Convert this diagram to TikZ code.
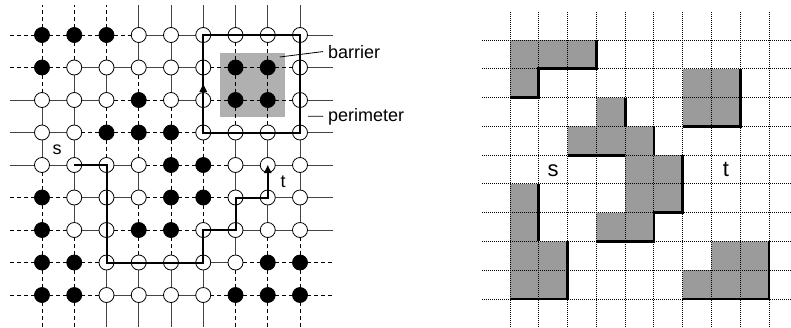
\documentclass[tikz,border=0pt]{standalone}
\usepackage{fontspec}
\setmainfont{Liberation Sans}
\usetikzlibrary{backgrounds,arrows.meta,calc}
\definecolor{edgegray}{HTML}{444444}
\definecolor{barriergray}{HTML}{B0B0B0}
\definecolor{cellgray}{HTML}{9B9B9B}
\tikzset{
  vtx/.style={circle, draw=black, line width=0.8pt, minimum size=15pt, inner sep=0pt},
  blk/.style={vtx, fill=black},
  wht/.style={vtx, fill=white},
  solidedge/.style={draw=edgegray, line width=0.9pt},
  dashedge/.style={draw=black, line width=0.8pt, dash pattern=on 4pt off 3pt},
  route/.style={draw=black, line width=2pt},
  leader/.style={draw=black, line width=0.8pt},
  lbl/.style={font=\fontsize{18}{21}\selectfont, inner sep=0pt},
  biglbl/.style={font=\fontsize{22}{26}\selectfont, inner sep=0pt},
  gridline/.style={draw=black, line width=1pt, dash pattern=on 1pt off 1pt},
  wall/.style={draw=black, line width=2.8pt, line join=miter},
  tri/.style={-{Triangle[length=8pt,width=7pt]}}
}
\def\st{{1,1,1,0,0,0,0,0,0,1,0,0,0,0,0,1,1,0,0,0,0,1,0,0,1,1,0,0,0,1,1,1,0,0,0,0,0,0,0,0,1,1,0,0,0,1,0,0,0,1,1,0,0,0,1,0,0,1,1,0,0,0,0,1,1,0,0,0,0,0,1,1,1,1,0,0,0,0,1,1,1}}
\begin{document}
\begin{tikzpicture}[x=1pt,y=-1pt]
\useasboundingbox (0,0) rectangle (791,327);
% ---------- left: node grid ----------
\foreach \r in {0,...,8}{
  \foreach \c in {0,...,8}{
    \pgfmathtruncatemacro\b{\st[\r*9+\c]}
    \ifnum\b=1 \def\ns{blk}\else\def\ns{wht}\fi
    \node[\ns] (n-\c-\r) at ({42+32.25*\c},{35+32.5*\r}) {};
  }
}
\begin{pgfonlayer}{background}
  \fill[barriergray] ($(n-6-1)+(-16,-15)$) rectangle ($(n-7-2)+(17,17)$);
  % horizontal edges
  \foreach \r in {0,...,8}{
    \foreach \c in {0,...,7}{
      \pgfmathtruncatemacro\s{\st[\r*9+\c]+\st[\r*9+\c+1]}
      \pgfmathtruncatemacro\cn{\c+1}
      \ifnum\s>0 \def\es{dashedge}\else\def\es{solidedge}\fi
      \draw[\es] (n-\c-\r.center) -- (n-\cn-\r.center);
    }
    \pgfmathtruncatemacro\sl{\st[\r*9]}
    \ifnum\sl>0 \def\es{dashedge}\else\def\es{solidedge}\fi
    \draw[\es] (n-0-\r.center) -- ++(-32,0);
    \pgfmathtruncatemacro\sr{\st[\r*9+8]}
    \ifnum\sr>0 \def\es{dashedge}\else\def\es{solidedge}\fi
    \draw[\es] (n-8-\r.center) -- ++(33,0);
  }
  % vertical edges
  \foreach \c in {0,...,8}{
    \foreach \r in {0,...,7}{
      \pgfmathtruncatemacro\s{\st[\r*9+\c]+\st[\r*9+\c+9]}
      \pgfmathtruncatemacro\rn{\r+1}
      \ifnum\s>0 \def\es{dashedge}\else\def\es{solidedge}\fi
      \draw[\es] (n-\c-\r.center) -- (n-\c-\rn.center);
    }
    \pgfmathtruncatemacro\stp{\st[\c]}
    \ifnum\stp>0 \def\es{dashedge}\else\def\es{solidedge}\fi
    \draw[\es] (n-\c-0.center) -- ++(0,-30);
    \pgfmathtruncatemacro\sb{\st[72+\c]}
    \ifnum\sb>0 \def\es{dashedge}\else\def\es{solidedge}\fi
    \draw[\es] (n-\c-8.center) -- ++(0,32);
  }
\end{pgfonlayer}
% perimeter
\draw[route] (n-5-3.center) -- (n-5-0.center) -- (n-8-0.center) -- (n-8-3.center) -- cycle;
\draw[route, tri] (n-5-2.center) -- ($(n-5-2)!0.5!(n-5-1)$);
% s-t path
\draw[route, tri] (n-1-4.center) -- (n-2-4.center) -- (n-2-7.center) -- (n-5-7.center)
  -- (n-5-6.center) -- (n-6-6.center) -- (n-6-5.center) -- (n-7-5.center) -- (n-7-4.center);
\node[lbl] (slbl) at (57,150) {s};
\node[lbl] (tlbl) at (283,182) {t};
\node[lbl, anchor=base west] (barrierlbl) at (328,58) {barrier};
\node[lbl, anchor=base west] (perimlbl) at (328,121) {perimeter};
\draw[leader] ($(n-7-1)+(12,-10.5)$) -- ($(barrierlbl.west)+(-5,0)$);
\draw[leader] ($(n-8-2)!0.5!(n-8-3)+(8,0)$) -- ($(perimlbl.west)+(-5,0)$);
% ---------- right: cell grid ----------
\begin{scope}[shift={(510,40)}, x=28.78pt, y=-28.78pt]
  \fill[cellgray] (0,0) -- (3,0) -- (3,1) -- (1,1) -- (1,2) -- (0,2) -- cycle;
  \fill[cellgray] (3,2) -- (4,2) -- (4,3) -- (5,3) -- (5,4) -- (6,4) -- (6,6) -- (5,6)
    -- (5,7) -- (3,7) -- (3,6) -- (4,6) -- (4,4) -- (2,4) -- (2,3) -- (3,3) -- cycle;
  \fill[cellgray] (6,1) rectangle (8,3);
  \fill[cellgray] (0,5) -- (1,5) -- (1,7) -- (2,7) -- (2,9) -- (0,9) -- cycle;
  \fill[cellgray] (7,7) -- (9,7) -- (9,9) -- (6,9) -- (6,8) -- (7,8) -- cycle;
  \foreach \j in {0,...,9}{
    \draw[gridline] (-0.973,\j) -- (9.77,\j);
  }
  \foreach \i in {0,...,9}{
    \draw[gridline] (\i,-0.973) -- (\i,9.98);
  }
  \draw[wall] (3,0) -- (3,1) -- (1,1) -- (1,2) -- (0,2);
  \draw[wall] (4,2) -- (4,3);
  \draw[wall] (2,4) -- (4,4);
  \draw[wall] (5,3) -- (5,4);
  \draw[wall] (6,4) -- (6,6) -- (5,6) -- (5,7) -- (3,7);
  \draw[wall] (8,1) -- (8,3) -- (6,3);
  \draw[wall] (1,5) -- (1,7);
  \draw[wall] (2,7) -- (2,9) -- (0,9);
  \draw[wall] (9,7) -- (9,9) -- (6,9);
  \node[biglbl] (rs) at (1.5,4.55) {s};
  \node[biglbl] (rt) at (7.5,4.5) {t};
\end{scope}
\end{tikzpicture}
\end{document}
